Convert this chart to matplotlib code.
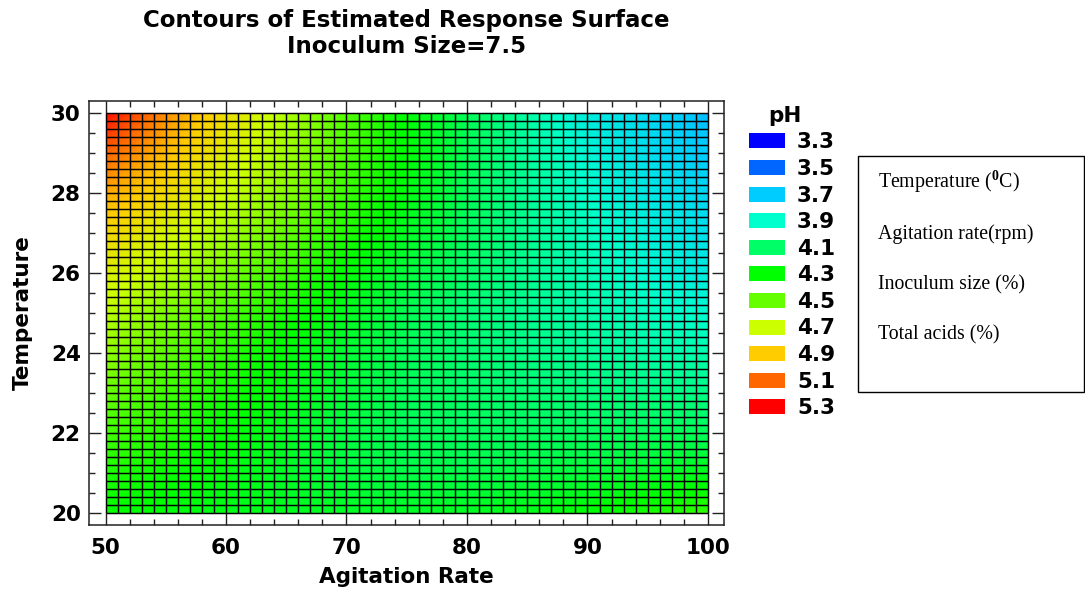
import numpy as np
import matplotlib
matplotlib.use("Agg")
import matplotlib.pyplot as plt
from matplotlib.colors import LinearSegmentedColormap, Normalize
from matplotlib.patches import Rectangle
from matplotlib.ticker import MultipleLocator

# ---------------- data ----------------
agitation = [50, 55, 60, 65, 70, 75, 80, 85, 90, 95, 100]
temperature = [20, 21, 22, 23, 24, 25, 26, 27, 28, 29, 30]

ph_T20 = [4.31, 4.28, 4.26, 4.24, 4.23, 4.23, 4.24, 4.26, 4.30, 4.35, 4.40]
ph_T21 = [4.36, 4.32, 4.27, 4.22, 4.18, 4.16, 4.16, 4.17, 4.19, 4.22, 4.25]
ph_T22 = [4.43, 4.37, 4.30, 4.23, 4.17, 4.13, 4.12, 4.12, 4.12, 4.13, 4.13]
ph_T23 = [4.50, 4.42, 4.34, 4.26, 4.19, 4.13, 4.10, 4.08, 4.06, 4.05, 4.04]
ph_T24 = [4.58, 4.48, 4.38, 4.28, 4.20, 4.13, 4.08, 4.04, 4.01, 3.98, 3.96]
ph_T25 = [4.67, 4.54, 4.44, 4.34, 4.24, 4.14, 4.07, 4.02, 3.97, 3.93, 3.89]
ph_T26 = [4.77, 4.65, 4.53, 4.41, 4.29, 4.18, 4.10, 4.02, 3.95, 3.88, 3.82]
ph_T27 = [4.86, 4.74, 4.62, 4.49, 4.36, 4.23, 4.12, 4.02, 3.93, 3.85, 3.78]
ph_T28 = [4.97, 4.84, 4.70, 4.56, 4.41, 4.27, 4.13, 4.01, 3.90, 3.81, 3.74]
ph_T29 = [5.10, 4.93, 4.77, 4.61, 4.44, 4.29, 4.14, 4.00, 3.87, 3.77, 3.70]
ph_T30 = [5.27, 5.02, 4.83, 4.64, 4.46, 4.29, 4.13, 3.98, 3.83, 3.75, 3.67]

ph_levels = [3.3, 3.5, 3.7, 3.9, 4.1, 4.3, 4.5, 4.7, 4.9, 5.1, 5.3]
level_colors = ["#0000FF", "#0066FF", "#00CCFF", "#00FFCC", "#00FF66", "#00FF00",
                "#66FF00", "#CCFF00", "#FFCC00", "#FF6600", "#FF0000"]
level_labels = ["3.3", "3.5", "3.7", "3.9", "4.1", "4.3", "4.5", "4.7", "4.9", "5.1", "5.3"]

title_lines = ["Contours of Estimated Response Surface", "Inoculum Size=7.5"]
x_label = "Agitation Rate"
y_label = "Temperature"
legend_title = "pH"
box_lines = [r"Temperature ($^{\mathbf{0}}$C)", "Agitation rate(rpm)",
             "Inoculum size (%)", "Total acids (%)"]

n_cells_x = 50
n_cells_y = 50

# ---------------- style ----------------
plt.rcParams["font.family"] = ["DejaVu Sans"]
plt.rcParams["font.weight"] = "bold"
plt.rcParams["mathtext.fontset"] = "custom"
plt.rcParams["mathtext.rm"] = "Liberation Serif"
plt.rcParams["mathtext.bf"] = "Liberation Serif:bold"

W, H = 1085, 592
fig = plt.figure(figsize=(W / 100, H / 100), dpi=100)


def fx(px):
    return px / W


def fy(py):
    return 1 - py / H


ax = fig.add_axes([fx(89), fy(525), fx(724) - fx(89), fy(101) - fy(525)])

cmap = LinearSegmentedColormap.from_list(
    "ph", list(zip((np.array(ph_levels) - ph_levels[0]) / (ph_levels[-1] - ph_levels[0]), level_colors)))
norm = Normalize(ph_levels[0], ph_levels[-1])

Z = np.array([ph_T20, ph_T21, ph_T22, ph_T23, ph_T24, ph_T25,
              ph_T26, ph_T27, ph_T28, ph_T29, ph_T30])
dx = (agitation[-1] - agitation[0]) / (len(agitation) - 1)
dy = (temperature[-1] - temperature[0]) / (len(temperature) - 1)
im = ax.imshow(Z, origin="lower", aspect="auto", cmap=cmap, norm=norm,
               extent=[agitation[0] - dx / 2, agitation[-1] + dx / 2,
                       temperature[0] - dy / 2, temperature[-1] + dy / 2],
               interpolation="bilinear", interpolation_stage="data")
clip = Rectangle((agitation[0], temperature[0]), agitation[-1] - agitation[0],
                 temperature[-1] - temperature[0], transform=ax.transData)
im.set_clip_path(clip)

x_edges = np.linspace(agitation[0], agitation[-1], n_cells_x + 1)
y_edges = np.linspace(temperature[0], temperature[-1], n_cells_y + 1)
ax.vlines(x_edges, temperature[0], temperature[-1], colors="black", linewidth=1.05)
ax.hlines(y_edges, agitation[0], agitation[-1], colors="black", linewidth=1.05)

ax.set_xlim(48.63, 101.33)
ax.set_ylim(19.7, 30.3)
ax.xaxis.set_major_locator(MultipleLocator(10))
ax.xaxis.set_minor_locator(MultipleLocator(2))
ax.yaxis.set_major_locator(MultipleLocator(2))
ax.yaxis.set_minor_locator(MultipleLocator(0.5))
ax.tick_params(which="both", direction="in", top=True, right=True, width=1.0, color="#222222")
ax.tick_params(which="major", length=8.6, labelsize=15.5)
ax.tick_params(which="minor", length=4.3)
ax.tick_params(axis="x", which="major", pad=9)
ax.tick_params(axis="y", which="major", pad=6)
for lab in ax.get_xticklabels() + ax.get_yticklabels():
    lab.set_fontweight("bold")
for sp in ax.spines.values():
    sp.set_linewidth(1.1)
    sp.set_color("#222222")

ax.set_xlabel(x_label, fontsize=15.5, fontweight="bold", labelpad=7)
ax.set_ylabel(y_label, fontsize=15.5, fontweight="bold", labelpad=13)

# title
fig.text(fx(406.5), fy(27), title_lines[0], ha="center", va="baseline", fontsize=16.5, fontweight="bold")
fig.text(fx(406.5), fy(53), title_lines[1], ha="center", va="baseline", fontsize=16.5, fontweight="bold")

# legend (pH levels)
fig.text(fx(785), fy(116), legend_title, ha="center", va="center", fontsize=15.5, fontweight="bold")
for i, (c, lab) in enumerate(zip(level_colors, level_labels)):
    ybot = 148.3 + i * 26.6
    fig.add_artist(Rectangle((fx(749), fy(ybot)), 36 / W, 15 / H, transform=fig.transFigure,
                             facecolor=c, edgecolor="none"))
    fig.text(fx(797), fy(ybot), lab, ha="left", va="baseline", fontsize=15.5, fontweight="bold")

# text box
fig.add_artist(Rectangle((fx(858), fy(392)), (1084 - 858) / W, (392 - 156) / H,
                         transform=fig.transFigure, fill=False, edgecolor="black", linewidth=1.0))
for i, t in enumerate(box_lines):
    fig.text(fx(878), fy(188 + i * 50.5), t, ha="left", va="baseline", fontsize=14.3,
             family="Liberation Serif", fontweight="normal")

fig.savefig("out.png", dpi=100)
